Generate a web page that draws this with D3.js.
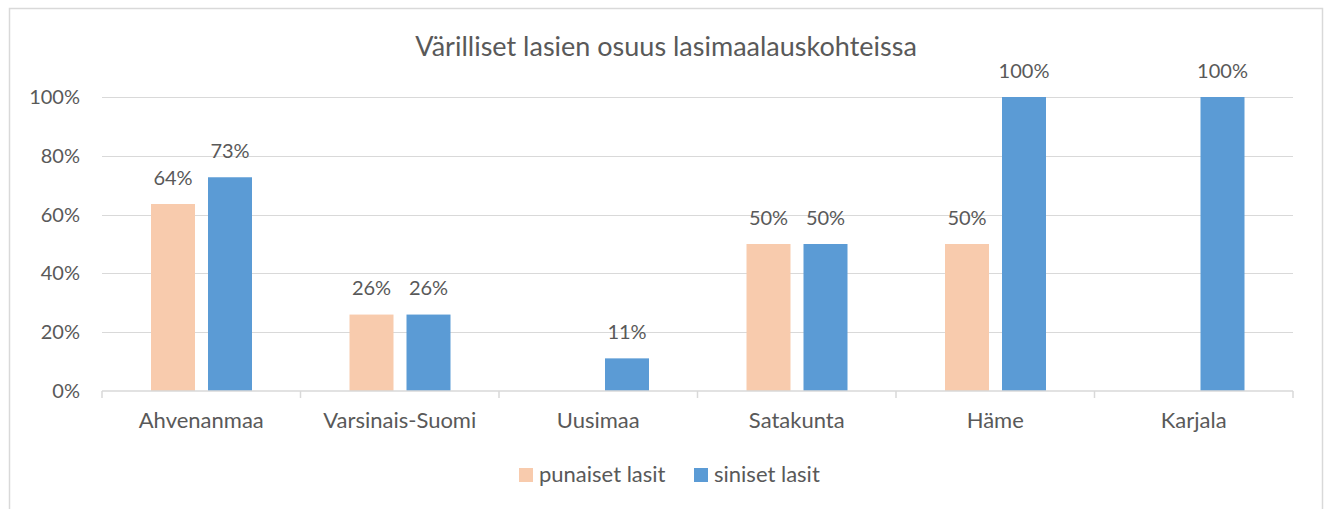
<!DOCTYPE html>
<html><head><meta charset="utf-8">
<script src="https://cdn.jsdelivr.net/npm/d3@7"></script>
<style>body{margin:0;background:#fff;} text{font-family:Lato,"Open Sans",sans-serif;fill:#595959;}</style>
</head><body><svg id="c" width="1329" height="509"></svg>
<script>
const categories = ["Ahvenanmaa","Varsinais-Suomi","Uusimaa","Satakunta","Häme","Karjala"];
const seriesNames = ["punaiset lasit","siniset lasit"];
const punaiset = [0.636, 0.26, null, 0.50, 0.50, null];
const siniset = [0.727, 0.26, 0.111, 0.50, 1.00, 1.00];
const yTicks = [0,0.2,0.4,0.6,0.8,1.0];
const colors = ["#F8CBAD","#5B9BD5"];
const title = "Värilliset lasien osuus lasimaalauskohteissa";

const svg = d3.select("#c");
svg.append("rect").attr("x",9.5).attr("y",8.5).attr("width",1313).attr("height",520)
  .attr("fill","#fff").attr("stroke","#d9d9d9").attr("stroke-width",1.5);

const x = d3.scaleBand().domain(categories).range([102,1293]);
const y = d3.scaleLinear().domain([0,1]).range([391,97]);
const xs = d3.scaleBand().domain([0,1]).range([49,150]).paddingInner(13/57).paddingOuter(0);

// gridlines
svg.append("g").selectAll("line").data(yTicks.slice(1)).join("line")
  .attr("x1",102).attr("x2",1293).attr("y1",d=>Math.round(y(d))+0.5).attr("y2",d=>Math.round(y(d))+0.5)
  .attr("stroke","#d9d9d9").attr("stroke-width",1);

// y axis labels
const yAxis = d3.axisLeft(y).tickValues(yTicks).tickFormat(d3.format(".0%")).tickSize(0).tickPadding(22);
const ga = svg.append("g").attr("transform","translate(102,0)").call(yAxis);
ga.select(".domain").remove();
ga.selectAll("text").style("font-size","20px").attr("fill","#595959").style("font-family","Lato");

// bars
const series = [punaiset, siniset];
series.forEach((vals,si)=>{
  const g = svg.append("g");
  const data = categories.map((c,i)=>({c,v:vals[i]})).filter(d=>d.v!=null);
  g.selectAll("rect").data(data).join("rect")
    .attr("x",d=>x(d.c)+xs(si)).attr("width",xs.bandwidth())
    .attr("y",d=>y(d.v)).attr("height",d=>y(0)-y(d.v)).attr("fill",colors[si]);
  g.selectAll("text").data(data).join("text")
    .attr("x",d=>x(d.c)+xs(si)+xs.bandwidth()/2).attr("y",d=>y(d.v)-19.5)
    .attr("text-anchor","middle").style("font-size","20px")
    .text(d=>d3.format(".0%")(d.v));
});

// x axis
const xAxis = d3.axisBottom(x).tickSize(0).tickPadding(21);
const gx = svg.append("g").attr("transform","translate(0,391)").call(xAxis);
gx.select(".domain").attr("stroke","#d9d9d9").attr("stroke-width",1.5).attr("d","M102,0H1293");
gx.selectAll("text").style("font-size","22px").attr("fill","#595959").style("font-family","Lato");
svg.append("g").selectAll("line").data(d3.range(categories.length+1)).join("line")
  .attr("x1",i=>102+i*x.step()).attr("x2",i=>102+i*x.step()).attr("y1",391).attr("y2",398)
  .attr("stroke","#d9d9d9").attr("stroke-width",1.5);

// title
svg.append("text").attr("x",666).attr("y",56).attr("text-anchor","middle").style("font-size","27px").text(title);

// legend
const leg = [{x:519,tx:539},{x:694,tx:714}];
seriesNames.forEach((n,i)=>{
  svg.append("rect").attr("x",leg[i].x).attr("y",468).attr("width",14).attr("height",14).attr("fill",colors[i]);
  svg.append("text").attr("x",leg[i].tx).attr("y",482).style("font-size","22px").text(n);
});
</script></body></html>
